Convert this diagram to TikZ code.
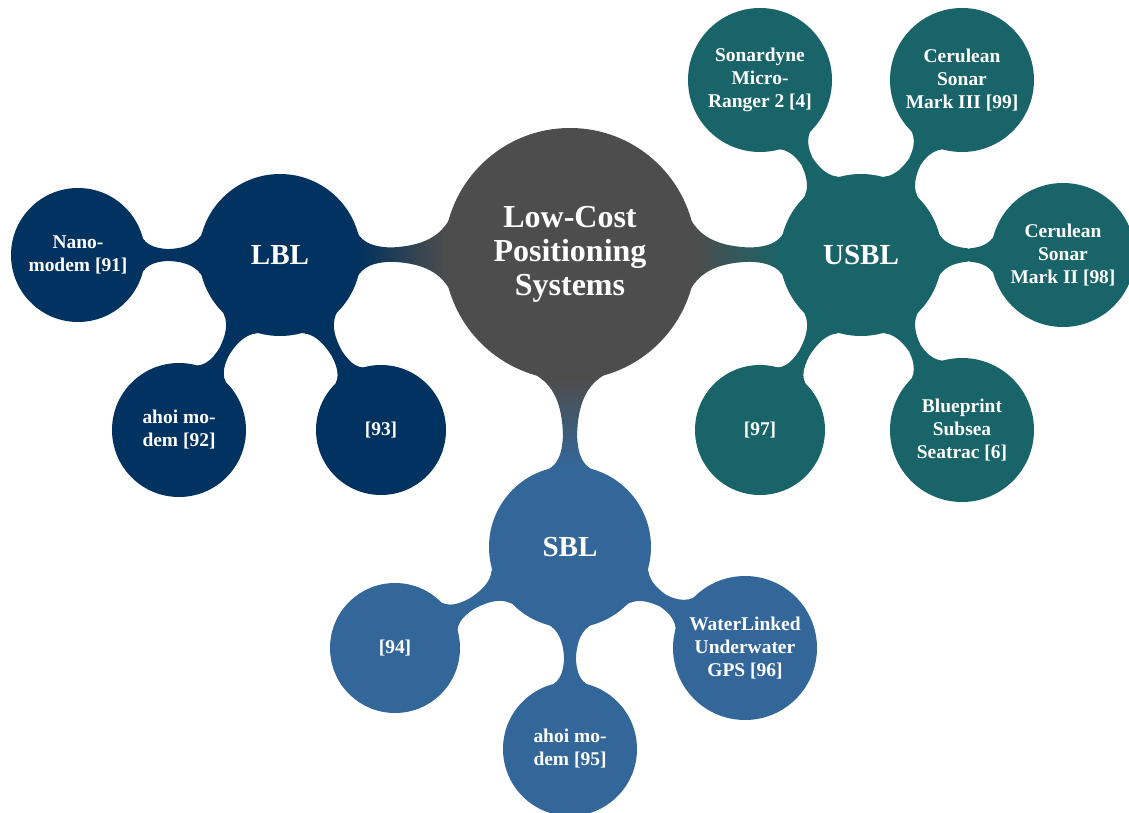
\documentclass[tikz,border=0pt]{standalone}
\usepackage{fontspec}
\setmainfont{Liberation Serif}
\usetikzlibrary{mindmap}
\pgfdeclarelayer{background}
\pgfsetlayers{background,main}
\definecolor{cgray}{HTML}{4D4D4D}
\definecolor{cnavy}{HTML}{02325F}
\definecolor{cteal}{HTML}{196469}
\definecolor{cblue}{HTML}{346799}
\begin{document}
\begin{tikzpicture}[x=0.75pt,y=-0.75pt,
  bubble/.style={circle, inner sep=0pt, outer sep=-1pt, align=center, text=white},
  rootc/.style={bubble, fill=cgray, minimum size=189pt,
    font=\fontsize{24}{25.5}\selectfont\bfseries},
  mainc/.style={bubble, minimum size=121.5pt,
    font=\fontsize{21.8}{25}\selectfont\bfseries},
  leafc/.style={bubble, font=\fontsize{14.6}{17.3}\selectfont\bfseries},
  leafa/.style={leafc, minimum size=97.5pt},
  leafb/.style={leafc, minimum size=100.5pt},
  leafd/.style={leafc, minimum size=108pt},
  bar1/.style={line width=10.5pt},
  bar2/.style={line width=9pt},
]
\useasboundingbox (0,0) rectangle (1129,813);

% root and main branches
\node[rootc] (root) at (570,254) {Low-Cost\\Positioning\\Systems};
\node[mainc, fill=cnavy] (lbl) at (280,255) {LBL};
\node[mainc, fill=cteal] (usbl) at (861,255) {USBL};
\node[mainc, fill=cblue] (sbl) at (570,547) {SBL};

% LBL leaves
\node[leafb, fill=cnavy] (nano) at (78,255) {Nano-\\modem [91]};
\node[leafb, fill=cnavy] (ahoiA) at (179,430) {ahoi mo-\\dem [92]};
\node[leafa, fill=cnavy] (r93) at (381,430) {[93]};

% USBL leaves
\node[leafd, fill=cteal] (sonar) at (760,80) {Sonardyne\\Micro-\\Ranger 2 [4]};
\node[leafd, fill=cteal] (cer3) at (962,80) {Cerulean\\Sonar\\Mark III [99]};
\node[leafd, fill=cteal] (cer2) at (1063,255) {Cerulean\\Sonar\\Mark II [98]};
\node[leafa, fill=cteal] (r97) at (760,430) {[97]};
\node[leafd, fill=cteal] (blue) at (962,430) {Blueprint\\Subsea\\Seatrac [6]};

% SBL leaves
\node[leafa, fill=cblue] (r94) at (395,648) {[94]};
\node[leafb, fill=cblue] (ahoiB) at (570,749) {ahoi mo-\\dem [95]};
\node[leafd, fill=cblue] (water) at (745,648) {WaterLinked\\Underwater\\GPS [96]};

% connections (behind the concepts)
\begin{pgfonlayer}{background}
\path[bar1] (root) to[circle connection bar switch color=from (cgray) to (cnavy)] (lbl);
\path[bar1] (root) to[circle connection bar switch color=from (cgray) to (cteal)] (usbl);
\path[bar1] (root) to[circle connection bar switch color=from (cgray) to (cblue)] (sbl);

\path[bar2] (lbl) to[circle connection bar switch color=from (cnavy) to (cnavy)] (nano);
\path[bar2] (lbl) to[circle connection bar switch color=from (cnavy) to (cnavy)] (ahoiA);
\path[bar2] (lbl) to[circle connection bar switch color=from (cnavy) to (cnavy)] (r93);

\path[bar2] (usbl) to[circle connection bar switch color=from (cteal) to (cteal)] (sonar);
\path[bar2] (usbl) to[circle connection bar switch color=from (cteal) to (cteal)] (cer3);
\path[bar2] (usbl) to[circle connection bar switch color=from (cteal) to (cteal)] (cer2);
\path[bar2] (usbl) to[circle connection bar switch color=from (cteal) to (cteal)] (r97);
\path[bar2] (usbl) to[circle connection bar switch color=from (cteal) to (cteal)] (blue);

\path[bar2] (sbl) to[circle connection bar switch color=from (cblue) to (cblue)] (r94);
\path[bar2] (sbl) to[circle connection bar switch color=from (cblue) to (cblue)] (ahoiB);
\path[bar2] (sbl) to[circle connection bar switch color=from (cblue) to (cblue)] (water);
\end{pgfonlayer}
\end{tikzpicture}
\end{document}
